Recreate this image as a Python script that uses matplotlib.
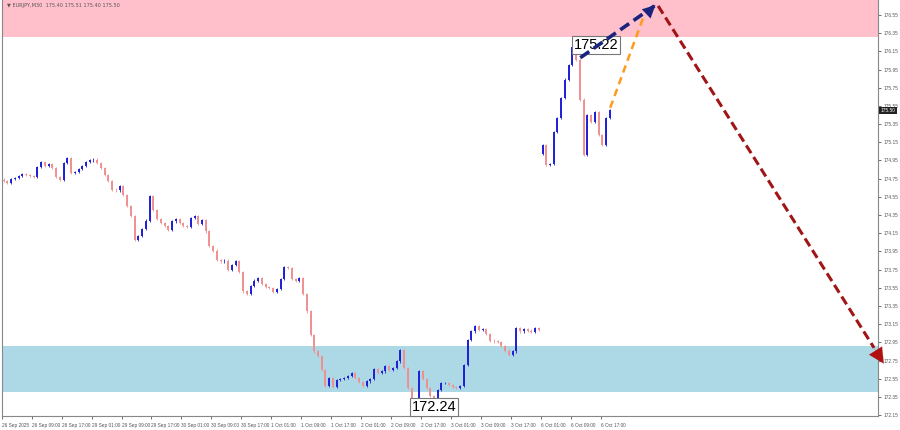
import matplotlib
matplotlib.use("Agg")
import matplotlib.pyplot as plt
import numpy as np

# hourly closes, EURJPY
closes = [
    174.72, 174.70, 174.75, 174.76, 174.78, 174.80, 174.79, 174.78, 174.77, 174.88,
    174.93, 174.89, 174.91, 174.87, 174.77, 174.74, 174.92, 174.98, 174.81, 174.82,
    174.86, 174.89, 174.93, 174.95, 174.96, 174.92, 174.87, 174.79, 174.72, 174.63,
    174.62, 174.67, 174.57, 174.45, 174.34, 174.08, 174.12, 174.20, 174.29, 174.56,
    174.41, 174.31, 174.26, 174.23, 174.19, 174.28, 174.31, 174.26, 174.23, 174.22,
    174.32, 174.34, 174.25, 174.30, 174.17, 174.01, 173.96, 173.86, 173.84, 173.85,
    173.75, 173.80, 173.84, 173.72, 173.51, 173.48, 173.57, 173.63, 173.66, 173.59,
    173.56, 173.55, 173.50, 173.54, 173.65, 173.78, 173.77, 173.65, 173.63, 173.66,
    173.48, 173.29, 173.03, 172.85, 172.80, 172.65, 172.47, 172.56, 172.46, 172.54,
    172.55, 172.56, 172.58, 172.61, 172.56, 172.51, 172.47, 172.52, 172.55, 172.66,
    172.61, 172.63, 172.69, 172.65, 172.67, 172.74, 172.87, 172.67, 172.45, 172.32,
    172.33, 172.63, 172.55, 172.45, 172.36, 172.34, 172.43, 172.50, 172.50, 172.48,
    172.46, 172.45, 172.47, 172.70, 172.98, 173.07, 173.13, 173.09, 173.10, 173.04,
    172.97, 172.96, 172.95, 172.91, 172.86, 172.81, 172.85, 173.11, 173.07, 173.10,
    173.08, 173.06, 173.11, 173.09,
    # Monday gap
    175.12, 174.90, 174.91, 175.26, 175.42, 175.64, 175.84, 176.00, 176.20, 176.06,
    175.62, 175.01, 175.45, 175.37, 175.48, 175.23, 175.12, 175.42, 175.50,
]
session_opens = {0: 174.74, 144: 175.02}

time_labels = ["26 Sep 2025", "26 Sep 09:00", "26 Sep 17:00", "29 Sep 01:00", "29 Sep 09:00",
               "29 Sep 17:00", "30 Sep 01:00", "30 Sep 09:00", "30 Sep 17:00", "1 Oct 01:00",
               "1 Oct 09:00", "1 Oct 17:00", "2 Oct 01:00", "2 Oct 09:00", "2 Oct 17:00",
               "3 Oct 01:00", "3 Oct 09:00", "3 Oct 17:00", "6 Oct 01:00", "6 Oct 09:00",
               "6 Oct 17:00"]
price_ticks = np.arange(172.15, 176.56, 0.2)

sell_zone = (176.31, 176.72)
buy_zone = (172.40, 172.91)

# forecast paths (bar index, price)
wave_up = [(154.1, 176.08), (173.9, 176.65)]
wave_alt = [(162.1, 175.53), (170.9, 176.52)]
wave_down = [(174.9, 176.65), (235.6, 172.69)]

header = "\u25bc EURJPY,M30  175.40 175.51 175.40 175.50"
last_price = 175.50

fig = plt.figure(figsize=(9, 4.3), dpi=100)
ax = fig.add_axes([0.002, 14 / 430, 876 / 900, 416 / 430])
ax.set_xlim(-0.5, 233.6)
ax.set_ylim(172.14, 176.715)

ax.axhspan(*sell_zone, color="#ffc0cb", zorder=0, lw=0)
ax.axhspan(*buy_zone, color="#add8e6", zorder=0, lw=0)

# candles: open = previous close
x = np.arange(len(closes))
opens = [session_opens.get(i, closes[i - 1] if i > 0 else closes[0]) for i in range(len(closes))]
for i in x:
    o, c = opens[i], closes[i]
    col = "#1f1fd6" if c >= o else "#f09090"
    lo, hi = min(o, c), max(o, c)
    ax.vlines(i, lo - 0.012, hi + 0.012, colors=col, lw=0.6, zorder=2)
    ax.vlines(i, lo, hi, colors=col, lw=1.4, zorder=2)

# forecast arrows
(x0, y0), (x1, y1) = wave_up
ax.plot([x0, x1], [y0, y1], color="#1a237e", lw=2.6, ls=(0, (3, 1.5)), zorder=5)
ax.annotate("", xy=(x1 + 0.8, y1 + 0.03), xytext=(x1 - 2, y1 - 0.08),
            arrowprops=dict(arrowstyle="-|>,head_length=0.9,head_width=0.45",
                            color="#1a237e", lw=0.1), zorder=6)

(x0, y0), (x1, y1) = wave_alt
ax.plot([x0, x1], [y0, y1], color="#ff9a1a", lw=1.8, ls=(0, (3, 2)), zorder=4)

(x0, y0), (x1, y1) = wave_down
ax.plot([x0, x1 - 3], [y0, y1 + 0.2], color="#a01515", lw=2.2, ls=(0, (3, 1.5)),
        zorder=5, clip_on=False)
ax.annotate("", xy=(x1, y1), xytext=(x1 - 4, y1 + 0.26),
            arrowprops=dict(arrowstyle="-|>,head_length=1.1,head_width=0.55",
                            color="#b01010", lw=0.1), zorder=6, annotation_clip=False)

# wave labels
box = dict(boxstyle="square,pad=0.12", fc="white", ec="#777777", lw=0.8)
ax.text(158.4, 176.22, "175.22", fontsize=10.5, family="Liberation Sans",
        ha="center", va="center", bbox=box, zorder=4)
ax.text(115.0, 172.24, "172.24", fontsize=10.5, family="Liberation Sans",
        ha="center", va="center", bbox=box, zorder=4)

ax.text(0.006, 0.992, header, transform=ax.transAxes, fontsize=3.6, color="#555555",
        va="top", ha="left")

# axes styling (MT4 look)
ax.spines["top"].set_visible(False)
for s in ["left", "right", "bottom"]:
    ax.spines[s].set_color("#888888")
    ax.spines[s].set_linewidth(0.8)

ax.yaxis.tick_right()
ax.set_yticks(price_ticks)
ax.set_yticklabels(["%.2f" % v for v in price_ticks])
ax.set_xticks(np.arange(0, len(time_labels) * 8, 8) - 0.5)
ax.set_xticklabels(time_labels, ha="left")
ax.tick_params(axis="both", labelsize=3.4, colors="#555555", length=2.5, width=0.6, pad=1.5)
ax.tick_params(axis="x", pad=2.5)
for lab in ax.get_xticklabels() + ax.get_yticklabels():
    lab.set_family("Liberation Sans")

ax.text(1.003, last_price, "%.2f" % last_price, transform=ax.get_yaxis_transform(),
        fontsize=3.4, family="Liberation Sans", color="white", va="center", ha="left",
        zorder=10, bbox=dict(boxstyle="square,pad=0.3", fc="#222222", ec="none"),
        clip_on=False)

fig.savefig("out.png", dpi=100)
